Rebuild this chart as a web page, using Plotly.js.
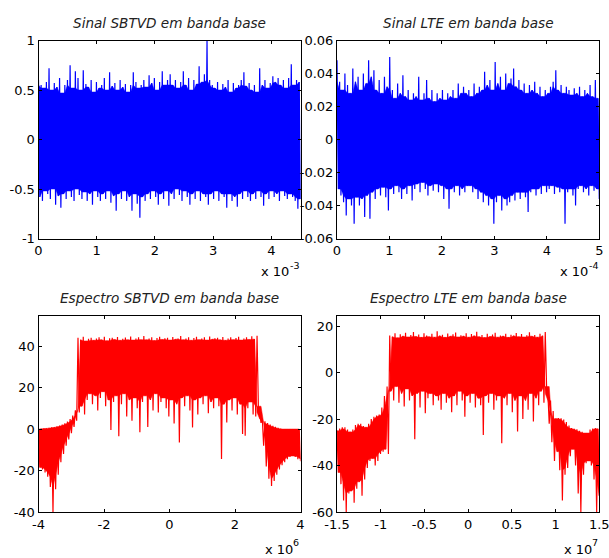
<!DOCTYPE html>
<html><head><meta charset="utf-8">
<script src="https://cdn.plot.ly/plotly-3.0.1.min.js"></script>
<style>html,body{margin:0;padding:0;background:#fff}#c{width:609px;height:558px}</style>
</head><body><div id="c"></div>
<script>
// ---- Data (envelope peaks) ----
// Panel 1: Sinal SBTVD em banda base, time 0..4.5 (x 10^-3 s)
const sbtvdTimeRange = [0, 4.5];
const sbtvdUpper = [0.60,0.55,0.52,0.58,0.72,0.50,0.57,0.53,0.62,0.47,
 0.55,0.60,0.75,0.52,0.69,0.62,0.50,0.70,0.56,0.53,
 0.60,0.48,0.58,0.52,0.55,0.62,0.50,0.68,0.54,0.57,
 0.50,0.60,0.53,0.56,0.48,0.55,0.68,0.58,0.52,0.55,
 0.60,0.53,0.65,0.57,0.62,0.50,0.58,0.69,0.55,0.60,
 0.66,0.55,0.60,0.52,0.58,0.69,0.55,0.62,0.50,0.60,
 0.56,0.74,0.58,0.66,1.00,0.60,0.55,0.52,0.58,0.50,
 0.56,0.53,0.60,0.48,0.57,0.52,0.55,0.60,0.68,0.54,
 0.57,0.50,0.55,0.48,0.72,0.55,0.60,0.52,0.57,0.64,
 0.58,0.62,0.55,0.60,0.52,0.62,0.76,0.55,0.60,0.58];
const sbtvdLower = [-0.58,-0.62,-0.52,-0.55,-0.60,-0.50,-0.66,-0.57,-0.69,-0.55,
 -0.60,-0.52,-0.58,-0.62,-0.50,-0.56,-0.60,-0.53,-0.62,-0.55,
 -0.66,-0.52,-0.58,-0.62,-0.55,-0.60,-0.52,-0.64,-0.57,-0.72,
 -0.55,-0.60,-0.52,-0.62,-0.58,-0.72,-0.55,-0.65,-0.79,-0.58,
 -0.62,-0.55,-0.60,-0.52,-0.58,-0.66,-0.55,-0.60,-0.52,-0.67,
 -0.55,-0.60,-0.50,-0.56,-0.62,-0.52,-0.58,-0.66,-0.55,-0.60,
 -0.52,-0.62,-0.55,-0.58,-0.66,-0.55,-0.60,-0.52,-0.62,-0.55,
 -0.58,-0.69,-0.55,-0.62,-0.58,-0.68,-0.55,-0.60,-0.52,-0.58,
 -0.62,-0.55,-0.60,-0.52,-0.58,-0.67,-0.55,-0.60,-0.52,-0.58,
 -0.55,-0.62,-0.52,-0.57,-0.60,-0.55,-0.58,-0.62,-0.70,-0.60];

// Panel 2: Sinal LTE em banda base, time 0..5 (x 10^-4 s)
const lteTimeRange = [0, 5];
const lteUpper = [0.048,0.035,0.030,0.040,0.033,0.028,0.043,0.035,0.038,0.030,
 0.040,0.034,0.048,0.038,0.042,0.030,0.036,0.028,0.038,0.032,
 0.050,0.030,0.025,0.034,0.028,0.039,0.026,0.030,0.024,0.028,
 0.026,0.038,0.024,0.028,0.036,0.025,0.030,0.023,0.028,0.025,
 0.030,0.024,0.028,0.026,0.030,0.025,0.034,0.028,0.032,0.028,
 0.030,0.026,0.034,0.028,0.032,0.030,0.041,0.033,0.036,0.030,
 0.047,0.034,0.038,0.030,0.040,0.034,0.037,0.043,0.032,0.036,
 0.030,0.034,0.028,0.033,0.030,0.035,0.028,0.032,0.026,0.030,
 0.028,0.032,0.035,0.042,0.030,0.033,0.028,0.032,0.030,0.027,
 0.031,0.028,0.032,0.026,0.030,0.028,0.033,0.026,0.036,0.025];
const lteLower = [-0.030,-0.034,-0.038,-0.046,-0.036,-0.040,-0.051,-0.035,-0.040,-0.036,
 -0.047,-0.034,-0.048,-0.032,-0.036,-0.030,-0.034,-0.029,-0.035,-0.043,
 -0.030,-0.033,-0.028,-0.032,-0.036,-0.030,-0.033,-0.028,-0.037,-0.030,
 -0.027,-0.032,-0.026,-0.030,-0.034,-0.028,-0.031,-0.027,-0.032,-0.028,
 -0.036,-0.030,-0.042,-0.030,-0.032,-0.028,-0.034,-0.030,-0.032,-0.028,
 -0.028,-0.032,-0.030,-0.036,-0.032,-0.038,-0.034,-0.040,-0.036,-0.051,
 -0.038,-0.034,-0.043,-0.036,-0.040,-0.038,-0.034,-0.037,-0.032,-0.036,
 -0.032,-0.035,-0.044,-0.032,-0.030,-0.034,-0.030,-0.033,-0.028,-0.032,
 -0.030,-0.028,-0.033,-0.029,-0.032,-0.030,-0.051,-0.032,-0.030,-0.034,
 -0.040,-0.030,-0.028,-0.032,-0.030,-0.034,-0.028,-0.031,-0.030,-0.036];

// Panel 3: Espectro SBTVD em banda base, freq -4..4 (x 10^6 Hz), dB
const sbtvdFreqRange = [-4, 4];
const sbtvdSpecUpperLeft = [0,0.2,0.3,0.4,0.6,0.8,1.0,1.3,1.7,2.2,2.8,3.6,4.8,6.5,9.0];
const sbtvdSpecLowerLeft = [-18.5,-19.5,-21,-23,-28,-40,-29,-22,-16,-12,-8,-5,-2,1,4];
const sbtvdSpecUpperBand = [44,43,44.5,42.5,43.5,44,42.8,43.6,44.2,43,
 44.5,42.6,43.8,44,43.2,44.4,42.8,43.5,44.1,43,
 44.6,42.9,43.7,44.2,43.1,44.8,43,43.6,44.3,42.7,
 43.9,44.5,43.2,43.8,44,42.9,44.4,43.3,43.7,44.9,
 43,43.6,44.2,42.8,43.9,44.5,43.1,43.7,44.2,42.9,
 44.6,43.3,43.8,44,43,44.4,42.8,43.6,44.3,43.1,
 43.9,44.5,42.9,43.6,44.2,43.2,44.7,43.4,45];
const sbtvdSpecLowerBand = [8,11,7,14,17,12,16,9,15,18,
 11,14,-0.5,13,16,-3.5,12,17,6,14,
 4,15,10,-1.5,13,16,1,14,9,17,
 8,13,15,10,6,14,2.7,12,-6.5,15,
 11,16,9,0.8,14,7,15,12,16,7.6,
 13,10,15,11,-14.5,12,3.2,14,9,15,
 7,12,-2.4,-3.2,10,13,7,6,11];
const sbtvdSpecUpperRight = [8,4.8,3.8,2.9,2.2,1.6,1.1,0.6,0.3,0,0,0,0,0,0,0];
const sbtvdSpecLowerRight = [3,-8,-18,-24,-27.5,-25,-22,-19.5,-17.5,-16,-14.5,-13.5,-13,-13.5,-14.5,-15.5];

// Panel 4: Espectro LTE em banda base, freq -1.5..1.5 (x 10^7 Hz), dB
const lteFreqRange = [-1.5, 1.5];
const lteSpecUpperLeft = [-25,-24,-23.5,-23.5,-24.5,-25.5,-24.5,-22.5,-22,-22,-23,-23.5,-22,-20,-19,-18.5,-18,-15,-10,-6];
const lteSpecLowerLeft = [-43,-48,-55,-60,-52,-51,-56,-50,-47,-53,-46,-41,-38,-37,-40,-38,-35,-34,-33,-35];
const lteSpecUpperBand = [16,15.5,17,15,16.5,15.8,17.2,15.4,16.2,17.5,
 15.6,16.4,15.2,17,16,15.5,16.8,15.3,17.8,15.9,
 16.3,15.2,16.9,15.7,16.5,17.3,15.4,16.1,15.8,17,
 15.3,16.6,15.9,17.6,15.5,16.2,15.1,16.8,15.6,16.4,
 17.2,15.3,16,15.8,16.7,15.2,16.3,15.9,17.1,15.5,
 16.6,15.4,16.1,17.4,15.7,16.2,15.3,16.8,15.9,17.5];
const lteSpecLowerBand = [-8,-12,-6,-13,-9,-14.6,-7,-12,-10,-28.7,
 -9,-15,-8,-17.5,-11,-9,-14,-10,-12,-16,
 -9,-13,-11,-17,-10,-14,-8,-12,-19,-10,
 -13,-9,-15,-11,-14,-26.8,-10,-13,-9,-16,
 -12,-10,-30.4,-11,-14,-9,-17,-12,-25.3,-10,
 -20,-12,-16,-9,-21,-11,-14,-8,-13,-6];
const lteSpecUpperRight = [-9,-12,-16.5,-19.8,-19.5,-19.6,-20.2,-21.2,-22.8,-23.8,-24.2,-24.4,-25,-25.4,-26,-26,-24.5,-24,-23.8,-24.2];
const lteSpecLowerRight = [-22,-30,-38,-34,-42,-55,-44,-41,-36,-33,-40,-52,-60,-44,-39,-38,-40,-46,-60,-53];

// Tick labels
const tickY1 = [-1,-0.5,0,0.5,1],        tickY1Text = ['-1','-0.5','0','0.5','1'];
const tickX1 = [0,1,2,3,4],              tickX1Text = ['0','1','2','3','4'];
const tickY2 = [-0.06,-0.04,-0.02,0,0.02,0.04,0.06], tickY2Text = ['-0.06','-0.04','-0.02','0','0.02','0.04','0.06'];
const tickX2 = [0,1,2,3,4,5],            tickX2Text = ['0','1','2','3','4','5'];
const tickY3 = [-40,-20,0,20,40],        tickY3Text = ['-40','-20','0','20','40'];
const tickX3 = [-4,-2,0,2,4],            tickX3Text = ['-4','-2','0','2','4'];
const tickY4 = [-60,-40,-20,0,20],       tickY4Text = ['-60','-40','-20','0','20'];
const tickX4 = [-1.5,-1,-0.5,0,0.5,1,1.5], tickX4Text = ['-1.5','-1','-0.5','0','0.5','1','1.5'];

const titles = ['Sinal SBTVD em banda base','Sinal LTE em banda base','Espectro SBTVD em banda base','Espectro LTE em banda base'];
const exponents = ['-3','-4','6','7'];

// ---- Build dense traces (alternating upper/lower samples, like the raw signal) ----
function zig(range, up, lo) {
  const n = up.length, m = 2*n, xs = [], ys = [];
  for (let k = 0; k < m; k++) {
    xs.push(range[0] + k*(range[1]-range[0])/(m-1));
    ys.push(k % 2 === 0 ? up[k>>1] : lo[k>>1]);
  }
  return {xs, ys};
}
// dense core (where neighbouring samples overlap): polygon between local min of peaks and local max of troughs
function core(range, up, lo) {
  const n = up.length, m = 2*n, xs = [], ys = [];
  const xAt = k => range[0] + k*(range[1]-range[0])/(m-1);
  const top = [], bot = [];
  for (let i = 0; i < n; i++) {
    const a = Math.max(0, i-1), b = Math.min(n-1, i+1);
    top.push(Math.min(up[a], up[i], up[b]));
    bot.push(Math.max(lo[a], lo[i], lo[b]));
  }
  for (let i = 0; i < n; i++) { xs.push(xAt(2*i)); ys.push(top[i]); }
  for (let i = n-1; i >= 0; i--) { xs.push(xAt(2*i+1)); ys.push(bot[i]); }
  return {xs, ys};
}
const W = 609, H = 558;
const px = v => v / W, py = v => 1 - v / H;

const sets = [
  [sbtvdTimeRange, sbtvdUpper, sbtvdLower, 'x', 'y', '#0000FF'],
  [lteTimeRange, lteUpper, lteLower, 'x2', 'y2', '#0000FF'],
  [sbtvdFreqRange, sbtvdSpecUpperLeft.concat(sbtvdSpecUpperBand, sbtvdSpecUpperRight),
     sbtvdSpecLowerLeft.concat(sbtvdSpecLowerBand, sbtvdSpecLowerRight), 'x3', 'y3', '#FF0000'],
  [lteFreqRange, lteSpecUpperLeft.concat(lteSpecUpperBand, lteSpecUpperRight),
     lteSpecLowerLeft.concat(lteSpecLowerBand, lteSpecLowerRight), 'x4', 'y4', '#FF0000']
];
const traces = [];
sets.forEach(([r, up, lo, xa, ya, c]) => {
  const cp = core(r, up, lo), zp = zig(r, up, lo);
  traces.push({x:cp.xs, y:cp.ys, xaxis:xa, yaxis:ya, type:'scatter', mode:'lines', fill:'toself',
    fillcolor:c, line:{color:c, width:0.5, simplify:false}, hoverinfo:'skip'});
  traces.push({x:zp.xs, y:zp.ys, xaxis:xa, yaxis:ya, type:'scatter', mode:'lines',
    line:{color:c, width:1.2, simplify:false}, hoverinfo:'skip'});
});

const tickFamily = 'DejaVu Sans, Verdana, sans-serif';
const font = {family:tickFamily, size:13, color:'#000'};
function ax(domain, range, tv, tt, anchor) {
  return {domain, range, tickvals:tv, ticktext:tt, anchor, showgrid:false, zeroline:false,
    showline:true, linecolor:'#000', linewidth:1, mirror:'ticks', ticks:'inside', ticklen:3,
    tickcolor:'#000', tickfont:font, fixedrange:true, ticklabeloverflow:'allow'};
}
const colL = [px(38.5), px(300.5)], colR = [px(337), px(599.3)];
const rowT = [py(238.5), py(40.5)], rowB = [py(512), py(316)];

const layout = {
  width:W, height:H, margin:{l:0,r:0,t:0,b:0}, paper_bgcolor:'#fff', plot_bgcolor:'#fff',
  showlegend:false, font:font,
  xaxis: ax(colL, [0,4.5], tickX1, tickX1Text, 'y'),
  yaxis: ax(rowT, [-1,1], tickY1, tickY1Text, 'x'),
  xaxis2: ax(colR, [0,5], tickX2, tickX2Text, 'y2'),
  yaxis2: ax(rowT, [-0.06,0.06], tickY2, tickY2Text, 'x2'),
  xaxis3: ax(colL, [-4,4], tickX3, tickX3Text, 'y3'),
  yaxis3: ax(rowB, [-40,54.5], tickY3, tickY3Text, 'x3'),
  xaxis4: ax(colR, [-1.5,1.5], tickX4, tickX4Text, 'y4'),
  yaxis4: ax(rowB, [-60,24.4], tickY4, tickY4Text, 'x4'),
  annotations: []
};
const centers = [[ (38.5+300.5)/2, 23 ], [ (337+599.3)/2, 23 ], [ (38.5+300.5)/2, 298 ], [ (337+599.3)/2, 298 ]];
titles.forEach((t,i) => layout.annotations.push({
  text:t, xref:'paper', yref:'paper', x:px(centers[i][0]), y:py(centers[i][1]),
  xanchor:'center', yanchor:'middle', showarrow:false,
  font:{family:tickFamily, size:13.6, style:'italic', color:'#222'}
}));
// "x 10" with a separate raised exponent, like MATLAB's axis multiplier
const expPos = [[301, 272], [600, 272], [301, 549], [600, 549]];
exponents.forEach((e,i) => {
  const expW = e.length > 1 ? 10 : 6;
  layout.annotations.push({
    text:'x 10', xref:'paper', yref:'paper', x:px(expPos[i][0] - expW), y:py(expPos[i][1]),
    xanchor:'right', yanchor:'middle', showarrow:false, font:font
  });
  layout.annotations.push({
    text:e, xref:'paper', yref:'paper', x:px(expPos[i][0]), y:py(expPos[i][1] - 7),
    xanchor:'right', yanchor:'middle', showarrow:false, font:{family:tickFamily, size:9.5, color:'#000'}
  });
});

Plotly.newPlot('c', traces, layout, {displayModeBar:false, staticPlot:true});
</script></body></html>
